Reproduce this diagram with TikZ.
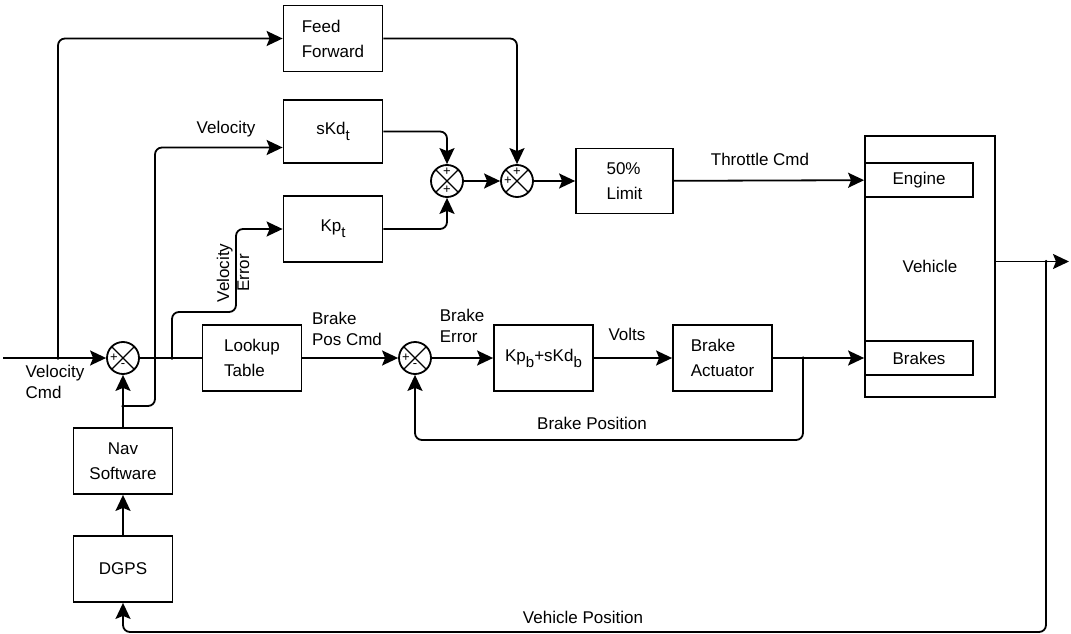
\documentclass[tikz,border=0pt]{standalone}
\usepackage{fontspec}
\setmainfont{Liberation Sans}
\usetikzlibrary{arrows.meta,positioning}

\newcommand{\lsub}[1]{\raisebox{-6pt}{\fontsize{15}{15}\selectfont #1}}

\begin{document}
\begin{tikzpicture}[
  x=1pt, y=-1pt,
  font=\fontsize{17}{21}\selectfont,
  box/.style={draw, line width=1.8pt, minimum width=99pt, minimum height=66pt, align=left, font=\fontsize{17}{25}\selectfont},
  part/.style={draw, line width=1.8pt, minimum width=108pt, minimum height=34pt},
  sum/.style={draw, circle, line width=1.8pt, minimum size=32pt, inner sep=0pt,
    path picture={\draw[line width=1.4pt] (path picture bounding box.north west) -- (path picture bounding box.south east)
      (path picture bounding box.north east) -- (path picture bounding box.south west);}},
  sign/.style={font=\fontsize{13}{13}\selectfont, inner sep=0pt},
  lbl/.style={align=left, inner sep=0pt},
  line/.style={line width=1.8pt, rounded corners=7pt},
  arrow/.style={line, -{Stealth[length=16pt,width=15pt,inset=3pt]}},
  dot/.style={circle, fill, inner sep=0pt, minimum size=3.5pt}
]
\useasboundingbox (0,0) rectangle (1071,634);

% throttle path
\node[box] (ff) at (333,38.5) {Feed\\Forward};
\node[box, minimum height=63pt] (skd) at (333,131.5) {sKd\lsub{t}};
\node[box] (kpt) at (333,229) {Kp\lsub{t}};
\node[sum] (sumpd) at (447,181) {};
\node[sum] (sumff) at (517,181) {};
\node[box, minimum width=97pt, minimum height=65pt] (limit) at (624.5,181) {50\%\\Limit};

% vehicle
\node[draw, line width=1.8pt, minimum width=130pt, minimum height=261pt] (vehicle) at (930,266.5) {Vehicle};
\node[part] (engine) at (919,180) {Engine};
\node[part] (brakes) at (919,358) {Brakes};

% brake path
\node[sum] (sumv) at (123,358) {};
\node[box] (lookup) at (252,358) {Lookup\\Table};
\node[sum] (sumbr) at (415,358) {};
\node[box] (kpb) at (543.5,358) {Kp\lsub{b}+sKd\lsub{b}};
\node[box] (act) at (722.5,358) {Brake\\Actuator};
\node[box, align=center] (nav) at (123,461) {Nav\\Software};
\node[box] (dgps) at (123,569) {DGPS};

% signs
\node[sign] (sv1) at ([xshift=-9pt]sumv.center) {+};
\node[sign] (sv2) at ([yshift=-8pt]sumv.center) {-};
\node[sign] (sp1) at ([yshift=9pt]sumpd.center) {+};
\node[sign] (sp2) at ([yshift=-9pt]sumpd.center) {+};
\node[sign] (sf1) at ([yshift=9pt]sumff.center) {+};
\node[sign] (sf2) at ([xshift=-9pt]sumff.center) {+};
\node[sign] (sb1) at ([xshift=-9pt]sumbr.center) {+};
\node[sign] (sb2) at ([yshift=-8pt]sumbr.center) {-};

% branch points
\coordinate (vin) at (3,358);
\coordinate (ffbr) at (58,358);
\coordinate (errbr) at (172,358);
\coordinate (velbr) at (123,406);
\coordinate (fbbr) at (803,358);
\coordinate (posbr) at (1046,261.5);
\coordinate (vout) at (1069,261.5);
\foreach \p in {ffbr,errbr,velbr,fbbr,posbr} \node[dot] at (\p) {};

% labels
\node[lbl] (lvcmd) at (55,382) {Velocity\\Cmd};
\node[lbl] (lvel) at (226,129) {Velocity};
\node[lbl, rotate=90, align=center, font=\fontsize{17}{20}\selectfont] (lverr) at (233,273) {Velocity\\Error};
\node[lbl] (lbpc) at (347,329) {Brake\\Pos Cmd};
\node[lbl] (lberr) at (462,326) {Brake\\Error};
\node[lbl] (lvolts) at (627,334) {Volts};
\node[lbl] (lthr) at (760,159) {Throttle Cmd};
\node[lbl] (lbpos) at (592,423.5) {Brake Position};
\node[lbl] (lvpos) at (583,617) {Vehicle Position};

% connectors
\draw[arrow] (vin) -- (sumv);
\draw[arrow] (ffbr) |- (ff.west);
\draw[line] (sumv) -- (lookup);
\draw[arrow] (errbr) -- ++(0,-46) -- ++(64,0) |- (kpt.west);
\draw[arrow] (nav) -- (sumv);
\draw[arrow] (velbr) -- ++(32,0) |- ([yshift=-16pt]skd.west);
\draw[arrow] (skd.east) -| (sumpd.north);
\draw[arrow] (kpt.east) -| (sumpd.south);
\draw[arrow] (sumpd) -- (sumff);
\draw[arrow] (ff.east) -| (sumff.north);
\draw[arrow] (sumff) -- (limit);
\draw[arrow] (limit) -- (engine);
\draw[arrow] (lookup) -- (sumbr);
\draw[arrow] (sumbr) -- (kpb);
\draw[arrow] (kpb) -- (act);
\draw[arrow] (act) -- (brakes);
\draw[arrow] (fbbr) -- ++(0,82) -| (sumbr.south);
\draw[arrow] ([yshift=5pt]vehicle.east) -- (vout);
\draw[arrow] (posbr) -- ++(0,370.5) -| (dgps.south);
\draw[arrow] (dgps) -- (nav);
\end{tikzpicture}
\end{document}
